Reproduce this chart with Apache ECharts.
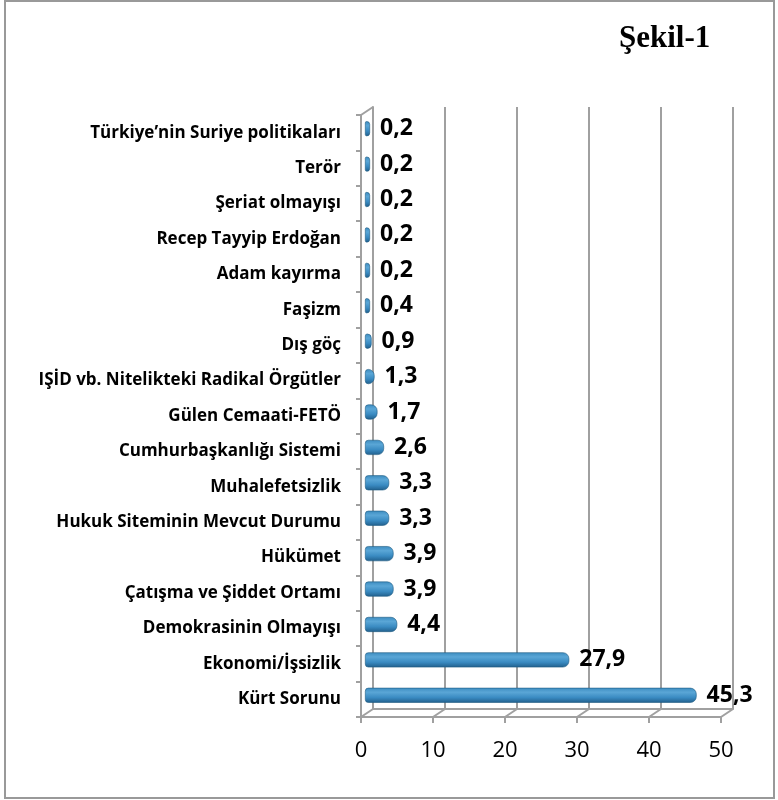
<!DOCTYPE html>
<html>
<head>
<meta charset="utf-8">
<script src="https://cdn.jsdelivr.net/npm/echarts@6/dist/echarts.min.js"></script>
<style>
  html, body { margin: 0; padding: 0; background: #fff; }
  #chart { width: 778px; height: 800px; }
</style>
</head>
<body>
<div id="chart"></div>
<script>
  // kategoriler (yukaridan asagiya)
  var categories = [
    'Türkiye’nin Suriye politikaları',
    'Terör',
    'Şeriat olmayışı',
    'Recep Tayyip Erdoğan',
    'Adam kayırma',
    'Faşizm',
    'Dış göç',
    'IŞİD vb. Nitelikteki Radikal Örgütler',
    'Gülen Cemaati-FETÖ',
    'Cumhurbaşkanlığı Sistemi',
    'Muhalefetsizlik',
    'Hukuk Siteminin Mevcut Durumu',
    'Hükümet',
    'Çatışma ve Şiddet Ortamı',
    'Demokrasinin Olmayışı',
    'Ekonomi/İşsizlik',
    'Kürt Sorunu'
  ];
  var values = [0.2, 0.2, 0.2, 0.2, 0.2, 0.4, 0.9, 1.3, 1.7, 2.6, 3.3, 3.3, 3.9, 3.9, 4.4, 27.9, 45.3];
  var xTicks = [0, 10, 20, 30, 40, 50];
  var title = 'Şekil-1';

  var chart = echarts.init(document.getElementById('chart'));

  var gridColor = '#a0a0a0';
  var depthX = 12, depthY = -8;   // 3B derinlik kaydirmasi
  var font = 'Open Sans';

  chart.setOption({
    animation: false,
    title: {
      text: title,
      left: 614,
      top: 18,
      textStyle: {
        fontFamily: 'Liberation Serif',
        fontWeight: 'bold',
        fontSize: 31,
        color: '#000'
      }
    },
    graphic: [{
      type: 'rect',
      shape: { x: 5, y: 1, width: 769, height: 797 },
      style: { fill: 'none', stroke: '#999', lineWidth: 2 },
      silent: true
    }],
    // 0: on duzlem, 1: cubuklar, 2: arka duvar
    grid: [
      { left: 361, right: 57, top: 115, bottom: 83 },
      { left: 365, right: 47, top: 111, bottom: 87 },
      { left: 373, right: 45, top: 107, bottom: 91 }
    ],
    xAxis: [
      {
        gridIndex: 0, type: 'value', min: 0, max: 50, interval: 10,
        axisLine: { show: true, lineStyle: { color: gridColor, width: 2 } },
        axisTick: { show: true, length: 6, lineStyle: { color: gridColor, width: 2 } },
        axisLabel: { margin: 23, fontSize: 22, color: '#000', fontFamily: font },
        splitLine: { show: false }
      },
      {
        gridIndex: 1, type: 'value', min: 0, max: 50, interval: 10,
        show: false
      },
      {
        gridIndex: 2, type: 'value', min: 0, max: 50, interval: 10,
        axisLine: { show: true, lineStyle: { color: gridColor, width: 2 } },
        axisTick: { show: false },
        axisLabel: { show: false },
        splitLine: { show: true, lineStyle: { color: gridColor, width: 2 } }
      }
    ],
    yAxis: [
      {
        gridIndex: 0, type: 'category', data: categories, inverse: true,
        axisLine: { show: true, lineStyle: { color: gridColor, width: 2 } },
        axisTick: { show: true, length: 5, lineStyle: { color: gridColor, width: 2 } },
        axisLabel: {
          margin: 20,
          fontSize: 17,
          fontWeight: 'bold',
          color: '#000',
          fontFamily: font
        }
      },
      {
        gridIndex: 1, type: 'category', data: categories, inverse: true,
        show: false
      },
      {
        gridIndex: 2, type: 'category', data: categories, inverse: true,
        axisLine: { show: true, lineStyle: { color: gridColor, width: 2 } },
        axisTick: { show: false },
        axisLabel: { show: false }
      }
    ],
    series: [
      {
        // zemin ve sol duvar kose cizgileri
        type: 'custom',
        xAxisIndex: 0,
        yAxisIndex: 0,
        silent: true,
        clip: false,
        data: xTicks.map(function (v) { return [v, 0]; }),
        encode: { x: 0, y: 1 },
        renderItem: function (params, api) {
          var x = api.coord([api.value(0), 0])[0];
          var cs = params.coordSys;
          var bottom = cs.y + cs.height;
          var children = [{
            type: 'line',
            shape: { x1: x, y1: bottom, x2: x + depthX, y2: bottom + depthY },
            style: { stroke: gridColor, lineWidth: 2 }
          }];
          if (api.value(0) === 0) {
            children.push({
              type: 'line',
              shape: { x1: x, y1: cs.y, x2: x + depthX, y2: cs.y + depthY },
              style: { stroke: gridColor, lineWidth: 2 }
            });
          }
          return { type: 'group', children: children };
        }
      },
      {
        type: 'bar',
        xAxisIndex: 1,
        yAxisIndex: 1,
        data: values,
        barWidth: 15,
        barMinHeight: 5,
        z: 5,
        itemStyle: {
          borderRadius: [3, 6, 6, 3],
          borderColor: '#1f5a82',
          borderWidth: 0.6,
          color: {
            type: 'linear', x: 0, y: 0, x2: 0, y2: 1,
            colorStops: [
              { offset: 0, color: '#3c8cc0' },
              { offset: 0.3, color: '#5aa6d6' },
              { offset: 0.65, color: '#3a8bc2' },
              { offset: 1, color: '#215f8c' }
            ]
          }
        },
        label: {
          show: true,
          position: 'right',
          distance: 10,
          fontSize: 23,
          fontWeight: 'bold',
          color: '#000',
          fontFamily: font,
          formatter: function (p) {
            return String(p.value).replace('.', ',');
          }
        }
      }
    ]
  });
</script>
</body>
</html>
